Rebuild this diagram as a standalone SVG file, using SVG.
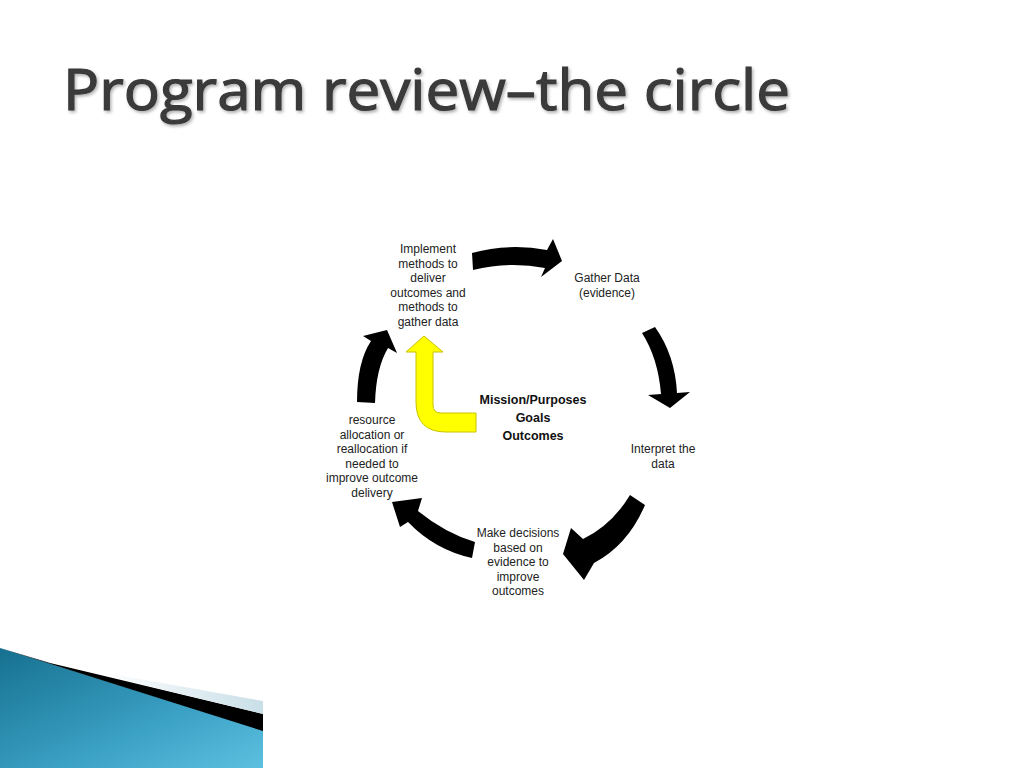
<svg xmlns="http://www.w3.org/2000/svg" width="1024" height="768" viewBox="0 0 1024 768">
<defs>
<style>
.lbl{font-family:"Liberation Sans",Arial,sans-serif;font-size:12px;fill:#222;text-anchor:middle}
.ctr{font-family:"Liberation Sans",Arial,sans-serif;font-size:12.5px;font-weight:bold;fill:#111;text-anchor:middle}
.arr{fill:#000}
.title{font-family:"Open Sans","DejaVu Sans",sans-serif;font-size:57px;font-weight:normal;fill:#3a3a3a;stroke:#3a3a3a;stroke-width:1.2}
</style>
<linearGradient id="blue" x1="0" y1="0" x2="1" y2="1">
<stop offset="0" stop-color="#16708f"/>
<stop offset="0.6" stop-color="#3aa0c4"/>
<stop offset="1" stop-color="#5cc0e0"/>
</linearGradient>
<linearGradient id="sheen" x1="0" y1="0" x2="1" y2="0">
<stop offset="0" stop-color="#ffffff"/>
<stop offset="1" stop-color="#c9dfe8"/>
</linearGradient>
<filter id="sh" x="-5%" y="-20%" width="110%" height="140%">
<feDropShadow dx="1.5" dy="2" stdDeviation="1.5" flood-color="#000" flood-opacity="0.3"/>
</filter>
</defs>
<rect width="1024" height="768" fill="#fff"/>
<text class="title" x="63" y="110" textLength="727" lengthAdjust="spacingAndGlyphs" filter="url(#sh)">Program review–the circle</text>

<g id="decoration">
<polygon points="0,648 263,730 263,768 0,768" fill="url(#blue)"/>
<polygon points="50,663 263,714 263,731 0,648" fill="#000"/>
<polygon points="100,672 263,701 263,714 140,684" fill="url(#sheen)"/>
</g>

<g id="connectors">
<path class="arr" d="M472,253 Q509,243 547,250 L553,239 L562,261 L541,277 L545,268 Q509,261 473,270 Z"/>
<path class="arr" d="M642,333 L655,327 Q675,355 677,393 L690,392 L670,408 L648,395 L661,394 Q658,358 642,333 Z"/>
<path class="arr" d="M630,495 L645,505 Q628,545 594,563 L584,580 L563,554 L571,528 L583,539 Q612,525 630,495 Z"/>
<path class="arr" d="M392,502 L422,498 L418,511 Q445,533 475,542 L472,558 Q435,550 408,522 L400,527 Z"/>
<path class="arr" d="M357,402 Q357,362 371,341 L363,336 L387,330 L397,353 L388,348 Q376,368 375,403 Z"/>
<path d="M424,336 L443,352 L433,352 L433,405 Q433,413 441,413 L476,413 L476,432 L446,432 Q416,432 416,402 L416,352 L406,352 Z" fill="#ffff00" stroke="#c9c200" stroke-width="1"/>
</g>

<g id="node-implement">
<text class="lbl" x="428" y="253">Implement</text>
<text class="lbl" x="428" y="267.5">methods to</text>
<text class="lbl" x="428" y="282">deliver</text>
<text class="lbl" x="428" y="296.5">outcomes and</text>
<text class="lbl" x="428" y="311">methods to</text>
<text class="lbl" x="428" y="325.5">gather data</text>
</g>
<g id="node-gather">
<text class="lbl" x="607" y="282">Gather Data</text>
<text class="lbl" x="607" y="296.5">(evidence)</text>
</g>
<g id="node-interpret">
<text class="lbl" x="663" y="453">Interpret the</text>
<text class="lbl" x="663" y="467.5">data</text>
</g>
<g id="node-decide">
<text class="lbl" x="518" y="537">Make decisions</text>
<text class="lbl" x="518" y="551.5">based on</text>
<text class="lbl" x="518" y="566">evidence to</text>
<text class="lbl" x="518" y="580.5">improve</text>
<text class="lbl" x="518" y="595">outcomes</text>
</g>
<g id="node-resource">
<text class="lbl" x="372" y="424">resource</text>
<text class="lbl" x="372" y="438.5">allocation or</text>
<text class="lbl" x="372" y="453">reallocation if</text>
<text class="lbl" x="372" y="467.5">needed to</text>
<text class="lbl" x="372" y="482">improve outcome</text>
<text class="lbl" x="372" y="496.5">delivery</text>
</g>
<g id="node-mission">
<text class="ctr" x="533" y="404">Mission/Purposes</text>
<text class="ctr" x="533" y="422">Goals</text>
<text class="ctr" x="533" y="440">Outcomes</text>
</g>
</svg>
